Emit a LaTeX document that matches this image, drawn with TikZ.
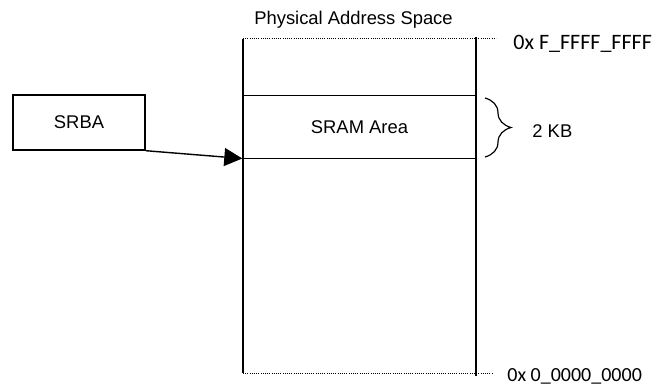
\documentclass[tikz,border=0pt]{standalone}
\usepackage{fontspec}
\setmainfont{Liberation Sans}
\newfontfamily\hexfont{Carlito}
\usetikzlibrary{arrows.meta,positioning,calc,decorations.pathreplacing}
\tikzset{
  regbox/.style={draw, line width=0.7pt, minimum width=66pt, minimum height=27.5pt, inner sep=0pt},
  region/.style={minimum width=116.5pt, minimum height=30.8pt, inner sep=0pt},
  lbl/.style={inner sep=0pt},
  addr/.style={inner sep=0pt, anchor=base west},
  guide/.style={line width=0.5pt, dash pattern=on 0.5pt off 0.6pt},
}

\begin{document}
\begin{tikzpicture}[x=0.5pt, y=-0.5pt, line width=0.7pt, >=Triangle, font=\fontsize{9.2}{11}\selectfont]
\useasboundingbox (0,0) rectangle (659,385);
\node[lbl, anchor=base] (title) at (353.5,24.5) {Physical Address Space};
\coordinate (lt) at (243,39);
\coordinate (lb) at (243,373);
\coordinate (rt) at (476,37);
\coordinate (rb) at (476,376);
\coordinate (dt) at (496,39);
\coordinate (db) at (493,373);
\draw[guide] (lt) -- (dt);
\draw[guide] (lb) -- (db);
\draw (lt) -- (lb);
\draw (rt) -- (rb);
\node[region] (sram) at (359.5,127) {SRAM Area};
\draw (sram.north west) -- (sram.north east);
\draw (sram.south west) -- (sram.south east);
\node[regbox] (srba) at (79,122.5) {SRBA};
\draw[-{Triangle[length=9pt, width=9pt]}] (srba.south east) -- (sram.south west);
\coordinate (bt) at (485,98);
\coordinate (bb) at (485,157);
\draw[line width=0.6pt, decorate, decoration={brace, amplitude=13pt}] (bt) -- (bb);
\node[lbl, anchor=base west] (size) at (531.7,137.3) {2 KB};
\node[addr, font=\hexfont\fontsize{11}{13}\selectfont] (hi) at (512.7,50) {0x F\_FFFF\_FFFF};
\node[addr, font=\hexfont\fontsize{10}{12}\selectfont] (lo) at (506.7,381.7) {0x 0\_0000\_0000};
\end{tikzpicture}
\end{document}
